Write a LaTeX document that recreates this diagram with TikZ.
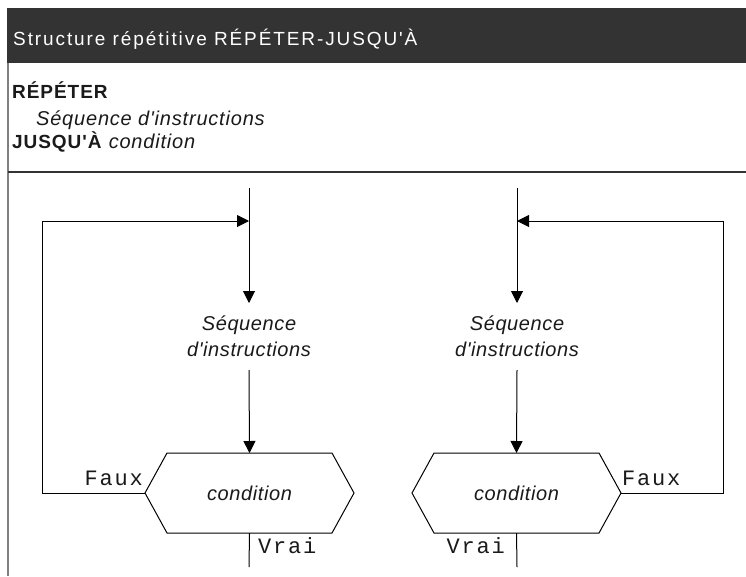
\documentclass[tikz,border=0pt]{standalone}
\usepackage{fontspec}
\setmainfont{Liberation Sans}
\newfontfamily\monof[LetterSpace=8]{Liberation Mono}
\newfontfamily\titlef[LetterSpace=10]{Liberation Sans}
\newfontfamily\codef[LetterSpace=4]{Liberation Sans}
\newfontfamily\boldf[LetterSpace=5]{Liberation Sans}
\newfontfamily\diagf[LetterSpace=3]{Liberation Sans}
\usetikzlibrary{arrows.meta,calc}
\definecolor{hdr}{HTML}{333333}
\definecolor{ink}{HTML}{1A1A1A}
\definecolor{frame}{HTML}{808080}
\begin{document}
\begin{tikzpicture}[x=1pt,y=-1pt,
  line/.style={line width=1pt, draw=black},
  arr/.style={line, -{Triangle[length=12pt,width=12pt]}},
  seqnode/.style={align=center, font=\diagf\fontsize{20}{26}\selectfont\itshape, minimum height=67pt, inner sep=0pt, outer sep=0pt, text=ink},
  condnode/.style={minimum width=209pt, minimum height=80pt, inner sep=0pt, outer sep=0pt, font=\diagf\fontsize{20}{24}\selectfont\itshape, text=ink},
  lbl/.style={font=\monof\fontsize{22}{24}\selectfont, inner sep=0pt, text=ink},
  codetxt/.style={anchor=base west, inner sep=0pt, text=ink},
  hexa/.style={line}]
\useasboundingbox (0,0) rectangle (746,576);
% header
\fill[hdr] (7,8) rectangle (746,63);
\node[anchor=base west, inner sep=0pt, text=white, font=\titlef\fontsize{19}{22}\selectfont] (title) at (13,45) {Structure répétitive RÉPÉTER-JUSQU'À};
% frame
\draw[frame, line width=2pt] (8,63) -- (8,576);
\draw[black!80, line width=2pt] (8,172) -- (746,172);
% pseudo-code
\node[codetxt, font=\boldf\fontsize{19}{22}\selectfont\bfseries] (rep) at (12,98) {RÉPÉTER};
\node[codetxt, font=\codef\fontsize{20}{22}\selectfont\itshape] (seqtxt) at (36,125) {Séquence d'instructions};
\node[codetxt, font=\boldf\fontsize{19}{22}\selectfont] (jus) at (12,148) {\textbf{JUSQU'À} {\codef\itshape\fontsize{20}{22}\selectfont condition}};
% left diagram
\coordinate (in1) at (249,188);
\coordinate (j1) at (249,221);
\coordinate (out1) at (249,567);
\node[seqnode] (seq1) at (249,336.5) {Séquence\\d'instructions};
\node[condnode] (cond1) at (249.5,493) {condition};
\draw[hexa] (cond1.west) -- ($(cond1.north west)+(22,0)$) -- ($(cond1.north east)+(-22,0)$) -- (cond1.east) -- ($(cond1.south east)+(-22,0)$) -- ($(cond1.south west)+(22,0)$) -- cycle;
\draw[line] (in1) -- (j1);
\draw[arr] (j1) -- (seq1.north);
\draw[arr] (seq1.south) -- (cond1.north);
\draw[line] (cond1.south) -- (out1);
\draw[arr] (cond1.west) -- ++(-103,0) |- (j1);
\node[lbl, anchor=base east] (faux1) at (143,485) {Faux};
\node[lbl, anchor=base west] (vrai1) at (258,553) {Vrai};
% right diagram
\coordinate (in2) at (517,188);
\coordinate (j2) at (517,221);
\coordinate (out2) at (517,567);
\node[seqnode] (seq2) at (517,336.5) {Séquence\\d'instructions};
\node[condnode] (cond2) at (516.5,493) {condition};
\draw[hexa] (cond2.west) -- ($(cond2.north west)+(22,0)$) -- ($(cond2.north east)+(-22,0)$) -- (cond2.east) -- ($(cond2.south east)+(-22,0)$) -- ($(cond2.south west)+(22,0)$) -- cycle;
\draw[line] (in2) -- (j2);
\draw[arr] (j2) -- (seq2.north);
\draw[arr] (seq2.south) -- (cond2.north);
\draw[line] (cond2.south) -- (out2);
\draw[arr] (cond2.east) -- ++(102,0) |- (j2);
\node[lbl, anchor=base west] (faux2) at (622,485) {Faux};
\node[lbl, anchor=base east] (vrai2) at (505,553) {Vrai};
\end{tikzpicture}
\end{document}
